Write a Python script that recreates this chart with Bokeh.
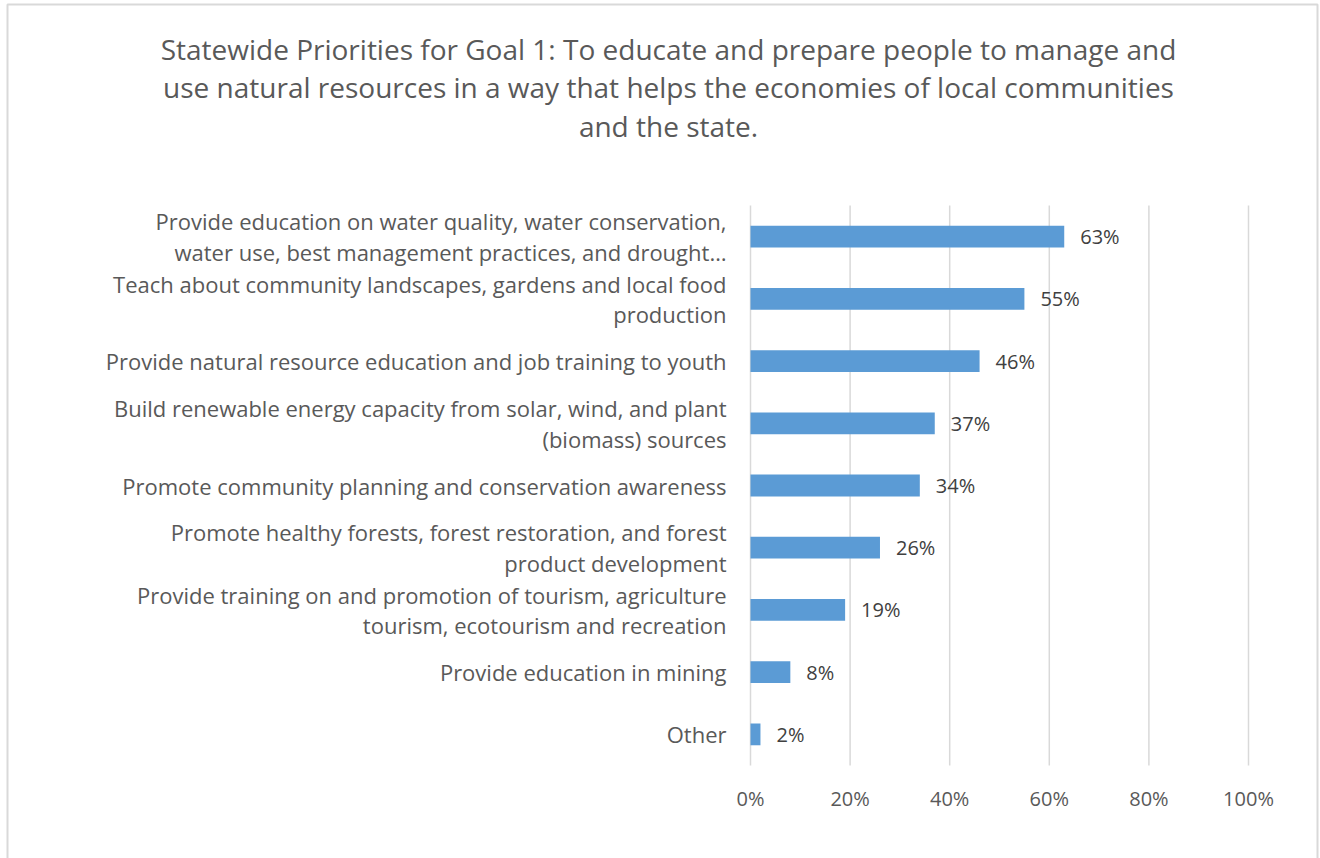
from bokeh.plotting import figure
from bokeh.models import ColumnDataSource, Range1d
from bokeh.core.properties import value
from bokeh.embed import file_html
from bokeh.resources import INLINE

categories = [
    "Provide education on water quality, water conservation,\nwater use, best management practices, and drought\u2026",
    "Teach about community landscapes, gardens and local food\nproduction",
    "Provide natural resource education and job training to youth",
    "Build renewable energy capacity from solar, wind, and plant\n(biomass) sources",
    "Promote community planning and conservation awareness",
    "Promote healthy forests, forest restoration, and forest\nproduct development",
    "Provide training on and promotion of tourism, agriculture\ntourism, ecotourism and recreation",
    "Provide education in mining",
    "Other",
]
values = [0.63, 0.55, 0.46, 0.37, 0.34, 0.26, 0.19, 0.08, 0.02]
value_labels = ["63%", "55%", "46%", "37%", "34%", "26%", "19%", "8%", "2%"]
x_ticks = [0, 0.2, 0.4, 0.6, 0.8, 1.0]
x_tick_labels = ["0%", "20%", "40%", "60%", "80%", "100%"]

title_lines = [
    "Statewide Priorities for Goal 1: To educate and prepare people to manage and",
    "use natural resources in a way that helps the economies of local communities",
    "and the state.",
]

FONT = "Open Sans"
GREY = "#595959"

# layout (canvas pixels)
W, H = 1320, 858
FL, FR, FT, FB = 750, 1248, 205, 765  # plot area edges
N = len(categories)
UNIT_Y = (FB - FT) / N

def px_to_x(px):
    return (px - FL) / (FR - FL)

def py_to_y(py):
    return (FB - py) / UNIT_Y

# category positions: first category at top
ypos = [N - 0.5 - i for i in range(N)]

p = figure(
    width=W, height=H,
    x_range=Range1d(px_to_x(0), px_to_x(W)),
    y_range=Range1d(py_to_y(H), py_to_y(0)),
    output_backend="svg", toolbar_location=None,
    min_border=0,
)
p.axis.visible = False
p.grid.visible = False
p.outline_line_color = None
p.background_fill_color = "white"
p.border_fill_color = "white"

# chart border
p.quad(left=[px_to_x(7)], right=[px_to_x(1317)], top=[py_to_y(4)], bottom=[py_to_y(900)],
       fill_color=None, line_color="#d9d9d9", line_width=2)

# gridlines
p.segment(x0=x_ticks, x1=x_ticks, y0=[0] * len(x_ticks), y1=[N] * len(x_ticks),
          line_color="#d9d9d9", line_width=1.5)

src = ColumnDataSource(dict(y=ypos, cat=categories, val=values, lab=value_labels))

p.hbar(y="y", right="val", left=0, height=0.35, source=src,
       fill_color="#5B9BD5", line_color=None)
p.text(x="val", y="y", text="lab", source=src, x_offset=16,
       text_align="left", text_baseline="middle",
       text_font=value(FONT), text_font_size="20px", text_color="#404040")

# category labels
p.text(x=0, y="y", text="cat", source=src, x_offset=-24,
       text_align="right", text_baseline="middle", text_line_height=1.02,
       text_font=value(FONT), text_font_size="22px", text_color=GREY)

# x tick labels
p.text(x=x_ticks, y=[0] * len(x_ticks), text=x_tick_labels, y_offset=33,
       text_align="center", text_baseline="middle",
       text_font=value(FONT), text_font_size="20px", text_color=GREY)

# title
p.text(x=[px_to_x(668)] * 3, y=[py_to_y(48 + i * 38.5) for i in range(3)], text=title_lines,
       text_align="center", text_baseline="middle",
       text_font=value(FONT), text_font_size="28px", text_color=GREY)

open("out.html", "w").write(file_html(p, INLINE))
